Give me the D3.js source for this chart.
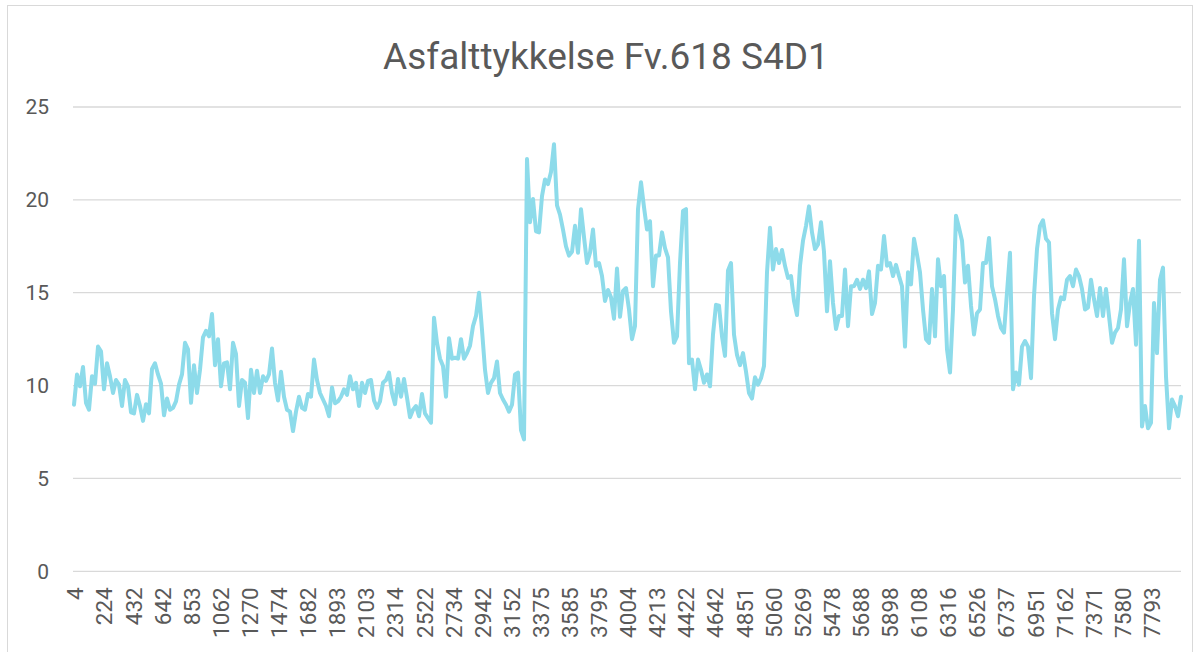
<!DOCTYPE html>
<html>
<head>
<meta charset="utf-8">
<script src="https://cdn.jsdelivr.net/npm/d3@7"></script>
<style>
  html, body { margin: 0; padding: 0; background: #fff; }
  svg { display: block; font-family: Roboto, "Noto Sans", sans-serif; }
</style>
</head>
<body>
<svg id="chart" width="1200" height="652"></svg>
<script>
const chartTitle = "Asfalttykkelse Fv.618 S4D1";

// x-axis category labels (one label every 21 categories)
const tickLabels = ["4","224","432","642","853","1062","1270","1474","1682","1893","2103","2314","2522","2734","2942","3152","3375","3585","3795","4004","4213","4422","4642","4851","5060","5269","5478","5688","5898","6108","6316","6526","6737","6951","7162","7371","7580","7793"];
const categoriesPerLabel = 21;
const categoryCount = 800;

const yTicks = [0, 5, 10, 15, 20, 25];

// asphalt thickness, read along the line from start to end (evenly spaced samples)
const thickness = [
  8.97,10.6,9.96,11.0,9.07,8.7,10.5,10.1,12.1,11.85,9.8,11.2,10.5,9.6,10.3,10.05,8.9,10.3,9.96,8.56,8.5,9.5,8.9,8.1,9.0,8.5,10.9,11.2,10.6,10.1,8.4,9.3,8.7,
  8.8,9.15,10.05,10.6,12.3,11.95,9.07,11.1,9.6,10.85,12.6,12.95,12.65,13.85,11.1,12.5,9.96,11.2,11.25,9.8,12.3,11.7,8.9,10.3,10.15,8.25,10.85,9.6,10.8,9.6,10.5,10.25,10.6,12.0,
  10.15,9.2,10.75,9.4,8.7,8.6,7.55,8.6,9.4,8.8,8.7,9.55,9.4,11.4,10.3,9.6,9.25,8.9,8.35,9.9,9.05,9.15,9.4,9.8,9.5,10.5,9.8,10.15,8.9,10.15,9.6,10.25,10.3,
  9.2,8.8,9.15,10.15,10.3,10.7,9.6,9.0,10.35,9.4,10.35,9.35,8.3,8.7,8.9,8.35,9.55,8.5,8.25,8.0,13.65,12.3,11.45,11.05,9.4,12.55,11.45,11.5,11.45,12.5,11.45,11.75,12.15,
  13.2,13.75,15.0,13.0,10.85,9.6,10.15,10.4,11.3,9.6,9.25,8.97,8.6,8.97,10.6,10.7,7.6,7.1,22.2,18.8,20.05,18.3,18.25,20.2,21.1,20.85,21.5,23.0,19.7,19.2,18.4,17.5,17.0,17.2,
  18.6,17.15,19.5,18.0,16.6,17.15,18.4,16.45,16.6,15.9,14.55,15.15,14.75,13.6,16.3,13.7,15.1,15.25,14.1,12.5,13.2,19.5,20.95,19.6,18.4,18.85,15.35,17.0,17.0,18.25,17.4,16.9,14.0,
  12.3,12.65,16.6,19.4,19.5,11.2,11.4,9.8,11.4,10.85,10.15,10.6,9.96,12.75,14.35,14.3,12.65,11.6,16.2,16.6,12.75,11.65,11.1,11.75,10.75,9.6,9.3,10.45,10.05,10.4,11.05,16.1,18.5,
  16.25,17.35,16.6,17.3,16.45,15.8,15.9,14.55,13.8,16.45,17.8,18.6,19.65,18.25,17.35,17.6,18.8,17.2,14.0,16.7,14.45,13.05,13.75,13.75,16.25,13.2,15.35,15.35,15.7,15.2,15.7,15.25,16.15,13.85,
  14.45,16.45,16.25,18.05,16.45,16.6,15.9,16.5,15.9,15.35,12.1,16.1,15.45,17.9,17.05,16.1,14.1,12.5,12.3,15.2,12.65,16.8,15.35,15.9,11.95,10.7,14.1,19.15,18.5,17.8,15.55,16.45,14.3,
  12.75,13.9,14.1,16.6,16.6,17.95,15.35,14.65,13.75,13.1,12.85,15.0,17.15,9.8,10.7,10.05,12.1,12.4,12.1,10.4,14.8,17.35,18.6,18.9,17.9,17.7,13.9,12.5,14.1,14.75,14.65,15.7,15.9,
  15.35,16.25,15.9,15.2,14.1,14.2,15.7,14.65,13.75,15.25,13.75,15.2,13.75,12.3,12.85,13.1,14.1,16.8,13.2,14.45,15.2,12.2,17.8,7.8,8.9,7.7,8.0,14.45,11.75,15.7,16.35,10.5,7.7,9.25,8.9,8.35,9.4
];

const W = 1200, H = 652;
const plot = { left: 74, right: 1181, top: 107, bottom: 571.3 };
const textColor = "#595959";
const gridColor = "#d9d9d9";
const lineColor = "#8ddbea";

const svg = d3.select("#chart");

svg.append("rect").attr("x", 0).attr("y", 0).attr("width", W).attr("height", H).attr("fill", "#fff");
svg.append("rect").attr("x", 7.5).attr("y", 5.5).attr("width", 1185).attr("height", 700)
  .attr("fill", "none").attr("stroke", gridColor).attr("stroke-width", 1);

// scales
const x = d3.scaleLinear().domain([0, categoryCount - 1]).range([plot.left, plot.right]);
const y = d3.scaleLinear().domain([0, 25]).range([plot.bottom, plot.top]);
const sampleToCategory = d3.scaleLinear().domain([0, thickness.length - 1]).range([0, categoryCount - 1]);

// gridlines
svg.append("g").selectAll("line").data(yTicks).join("line")
  .attr("x1", plot.left - 1).attr("x2", plot.right)
  .attr("y1", d => y(d)).attr("y2", d => y(d))
  .attr("stroke", gridColor).attr("stroke-width", 1.3);

// y axis labels
const yAxis = d3.axisLeft(y).tickValues(yTicks).tickSize(0).tickPadding(0).tickFormat(d3.format("d"));
const gy = svg.append("g").attr("transform", `translate(${49},0)`).call(yAxis);
gy.select(".domain").remove();
gy.selectAll("text").attr("fill", textColor).style("font-size", "21px").style("font-family", "Roboto");

// x axis labels
const tickCats = tickLabels.map((_, i) => i * categoriesPerLabel);
const xAxis = d3.axisBottom(x).tickValues(tickCats).tickSize(0).tickFormat((d, i) => tickLabels[i]);
const gx = svg.append("g").attr("transform", `translate(0,${plot.bottom})`).call(xAxis);
gx.select(".domain").remove();
gx.selectAll("text")
  .attr("fill", textColor).style("font-size", "22.5px").style("font-family", "Roboto")
  .attr("text-anchor", "end")
  .attr("transform", "translate(1,16) rotate(-90)")
  .attr("x", 0).attr("y", 0).attr("dy", "0.35em");

// line
const line = d3.line()
  .x((d, i) => x(sampleToCategory(i)))
  .y(d => y(d));
svg.append("path").datum(thickness)
  .attr("d", line)
  .attr("fill", "none")
  .attr("stroke", lineColor)
  .attr("stroke-width", 4)
  .attr("stroke-linejoin", "round")
  .attr("stroke-linecap", "round");

// title
svg.append("text").attr("x", 606).attr("y", 69).attr("text-anchor", "middle")
  .attr("fill", textColor).style("font-size", "37px").style("font-family", "Roboto")
  .text(chartTitle);
</script>
</body>
</html>
